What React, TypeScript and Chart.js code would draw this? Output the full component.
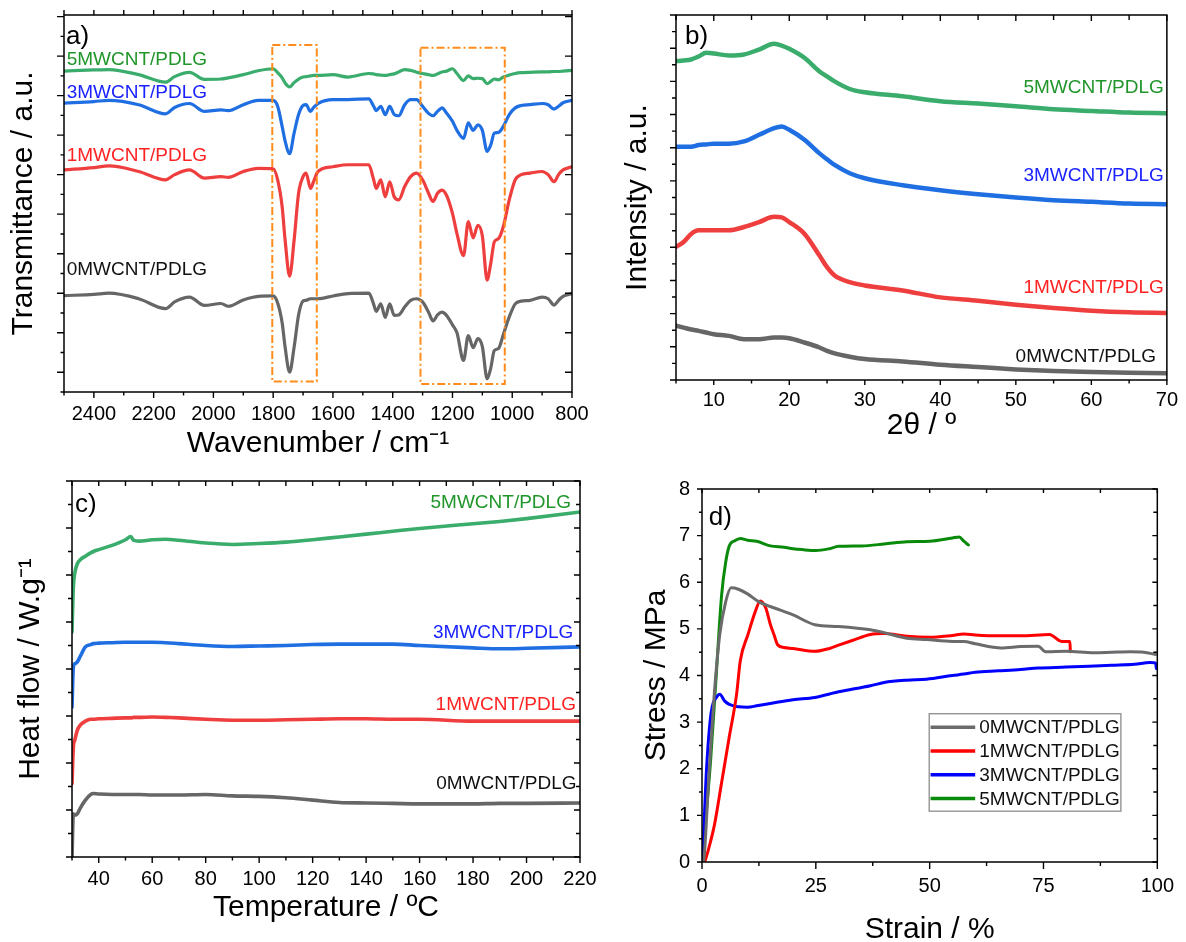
import React, { useEffect, useRef } from 'react';
import { Chart, registerables } from 'chart.js';

Chart.register(...registerables);

const FONT = '"Liberation Sans", Arial, Helvetica, sans-serif';

const sampleLabels = ['0MWCNT/PDLG', '1MWCNT/PDLG', '3MWCNT/PDLG', '5MWCNT/PDLG'];

// ---------- a) FTIR ----------
const ftirWavenumber = [2500, 2400, 2350, 2250, 2160, 2130, 2080, 2030, 1975, 1950, 1900, 1850, 1800, 1785, 1770, 1760, 1745, 1730, 1715, 1700, 1690, 1675, 1665, 1650, 1600, 1550, 1480, 1465, 1455, 1440, 1425, 1410, 1395, 1380, 1360, 1340, 1320, 1300, 1280, 1265, 1250, 1235, 1220, 1200, 1185, 1163, 1147, 1131, 1115, 1100, 1084, 1072, 1060, 1046, 1030, 1010, 990, 970, 940, 900, 880, 860, 845, 830, 800];
const ftir0 = [1.94, 1.97, 2.0, 1.86, 1.61, 1.78, 1.9, 1.69, 1.74, 1.67, 1.83, 1.92, 1.93, 1.75, 1.25, 0.63, 0.0, 0.63, 1.45, 1.8, 1.82, 1.86, 1.86, 1.86, 1.93, 1.99, 2.0, 1.75, 1.54, 1.73, 1.39, 1.73, 1.44, 1.45, 1.65, 1.82, 1.86, 1.78, 1.52, 1.3, 1.45, 1.52, 1.44, 1.2, 1.0, 0.3, 0.93, 0.62, 0.85, 0.65, -0.17, 0.1, 0.55, 0.6, 0.95, 1.4, 1.73, 1.8, 1.82, 1.9, 1.86, 1.7, 1.82, 1.92, 1.99];
const ftir1 = [5.12, 5.18, 5.22, 5.08, 4.87, 5.0, 5.12, 4.91, 4.95, 4.93, 5.08, 5.16, 5.15, 4.87, 4.19, 3.34, 2.43, 3.34, 4.53, 4.95, 5.04, 4.65, 4.82, 5.08, 5.2, 5.25, 5.25, 4.91, 4.65, 4.87, 4.44, 4.82, 4.44, 4.36, 4.7, 4.95, 5.04, 4.87, 4.53, 4.32, 4.53, 4.61, 4.48, 4.02, 3.51, 2.95, 3.81, 3.4, 3.72, 3.45, 2.33, 2.75, 3.3, 3.38, 3.68, 4.36, 4.87, 5.0, 5.04, 5.08, 5.0, 4.82, 5.0, 5.12, 5.2];
const ftir3 = [6.81, 6.85, 6.88, 6.77, 6.54, 6.7, 6.8, 6.6, 6.64, 6.62, 6.77, 6.88, 6.88, 6.73, 6.22, 5.85, 5.53, 6.05, 6.52, 6.75, 6.77, 6.6, 6.7, 6.8, 6.9, 6.9, 6.92, 6.75, 6.62, 6.73, 6.52, 6.73, 6.52, 6.49, 6.77, 6.9, 6.9, 6.73, 6.55, 6.49, 6.6, 6.69, 6.56, 6.35, 6.12, 5.92, 6.31, 6.12, 6.26, 6.12, 5.59, 5.75, 6.05, 6.07, 6.22, 6.52, 6.69, 6.75, 6.77, 6.8, 6.77, 6.66, 6.73, 6.82, 6.88];
const ftir5 = [7.62, 7.65, 7.66, 7.53, 7.34, 7.48, 7.59, 7.41, 7.42, 7.45, 7.53, 7.63, 7.68, 7.58, 7.45, 7.32, 7.22, 7.33, 7.42, 7.47, 7.48, 7.5, 7.51, 7.51, 7.53, 7.47, 7.56, 7.55, 7.53, 7.52, 7.51, 7.53, 7.55, 7.6, 7.66, 7.64, 7.59, 7.56, 7.53, 7.51, 7.55, 7.6, 7.62, 7.68, 7.56, 7.38, 7.5, 7.43, 7.44, 7.43, 7.3, 7.36, 7.42, 7.4, 7.47, 7.52, 7.56, 7.58, 7.59, 7.6, 7.6, 7.61, 7.61, 7.62, 7.64];

// ---------- b) XRD ----------
const xrdTwoTheta = [5, 6, 7, 8, 9, 10, 12, 14, 16, 18, 19, 20, 22, 24, 25, 26, 28, 30, 35, 40, 45, 50, 55, 60, 65, 70];
const xrd0 = [1.64, 1.58, 1.52, 1.48, 1.43, 1.38, 1.33, 1.23, 1.23, 1.28, 1.28, 1.26, 1.13, 0.98, 0.88, 0.8, 0.7, 0.63, 0.56, 0.46, 0.39, 0.32, 0.27, 0.24, 0.22, 0.2];
const xrd1 = [4.01, 4.16, 4.4, 4.51, 4.51, 4.51, 4.51, 4.61, 4.76, 4.92, 4.9, 4.76, 4.41, 3.75, 3.4, 3.15, 2.95, 2.85, 2.7, 2.49, 2.39, 2.27, 2.17, 2.09, 2.04, 2.02];
const xrd3 = [7.03, 7.03, 7.03, 7.08, 7.1, 7.12, 7.12, 7.19, 7.39, 7.59, 7.64, 7.54, 7.24, 6.83, 6.65, 6.48, 6.23, 6.08, 5.87, 5.72, 5.6, 5.5, 5.42, 5.37, 5.32, 5.3];
const xrd5 = [9.61, 9.63, 9.66, 9.75, 9.86, 9.84, 9.78, 9.81, 9.96, 10.13, 10.08, 9.98, 9.71, 9.3, 9.15, 9.0, 8.77, 8.67, 8.55, 8.4, 8.33, 8.25, 8.16, 8.11, 8.06, 8.04];

// ---------- c) DSC ----------
const dscTemperature = [30, 30.5, 31, 32, 33, 35, 37, 38, 40, 45, 50, 52, 53, 55, 60, 65, 70, 80, 90, 100, 110, 120, 130, 140, 150, 160, 180, 190, 200, 220];
const dsc0 = [0.0, 0.92, 0.89, 0.92, 1.03, 1.21, 1.33, 1.35, 1.34, 1.33, 1.33, 1.33, 1.33, 1.33, 1.32, 1.32, 1.32, 1.33, 1.3, 1.29, 1.26, 1.21, 1.16, 1.15, 1.14, 1.13, 1.13, 1.14, 1.14, 1.15];
const dsc1 = [1.56, 2.34, 2.48, 2.7, 2.8, 2.89, 2.93, 2.93, 2.94, 2.95, 2.96, 2.96, 2.97, 2.97, 2.98, 2.97, 2.96, 2.93, 2.91, 2.91, 2.92, 2.93, 2.94, 2.94, 2.93, 2.93, 2.89, 2.89, 2.89, 2.89];
const dsc3 = [3.19, 4.04, 4.11, 4.15, 4.26, 4.47, 4.52, 4.54, 4.55, 4.56, 4.57, 4.57, 4.57, 4.57, 4.57, 4.56, 4.54, 4.5, 4.48, 4.49, 4.5, 4.52, 4.53, 4.53, 4.53, 4.5, 4.45, 4.43, 4.44, 4.47];
const dsc5 = [4.79, 5.74, 6.03, 6.24, 6.32, 6.4, 6.47, 6.5, 6.54, 6.63, 6.75, 6.82, 6.74, 6.72, 6.75, 6.76, 6.74, 6.68, 6.65, 6.67, 6.7, 6.75, 6.81, 6.87, 6.93, 6.99, 7.09, 7.14, 7.2, 7.34];

// ---------- d) Tensile ----------
const strain0 = [0.2, 0.4, 1.5, 2.7, 3.9, 5.2, 6.4, 8, 10, 12.5, 15, 20, 24.8, 30, 37, 40, 45, 49.3, 55, 57.5, 60, 65.7, 70, 73.8, 75.5, 80, 86, 90, 94, 97, 99.6];
const stress0 = [0, 0.05, 1.84, 3.6, 4.88, 5.58, 5.88, 5.85, 5.75, 5.58, 5.48, 5.3, 5.09, 5.05, 4.98, 4.92, 4.8, 4.77, 4.73, 4.73, 4.68, 4.59, 4.62, 4.63, 4.51, 4.52, 4.49, 4.5, 4.51, 4.5, 4.45];
const strain1 = [0.6, 1.5, 2.7, 4.3, 6.0, 7.6, 8.4, 10.1, 11.7, 12.8, 14, 15, 15.8, 16.6, 18, 20, 24.8, 28, 30, 33, 37, 40, 45, 50, 55, 57.5, 60, 65, 70, 76.3, 79, 80.8, 80.9];
const stress1 = [0, 0.3, 0.78, 1.7, 2.69, 3.6, 4.31, 4.88, 5.37, 5.6, 5.45, 5.1, 4.88, 4.66, 4.6, 4.58, 4.52, 4.58, 4.65, 4.75, 4.88, 4.9, 4.84, 4.82, 4.86, 4.89, 4.87, 4.85, 4.85, 4.88, 4.73, 4.73, 4.51];
const strain3 = [0, 0.3, 1, 2, 3.3, 3.9, 5, 6, 8, 10, 12, 15, 20, 24.8, 30, 37, 40, 45, 49.3, 55, 57.5, 60, 65, 70, 73.8, 80, 85, 90, 95, 98.4, 99.6, 99.8];
const stress3 = [0, 0.5, 2.0, 3.2, 3.55, 3.6, 3.45, 3.38, 3.33, 3.32, 3.35, 3.4, 3.48, 3.53, 3.65, 3.78, 3.85, 3.9, 3.92, 4.0, 4.03, 4.07, 4.1, 4.13, 4.16, 4.18, 4.2, 4.22, 4.24, 4.28, 4.27, 4.15];
const strain5 = [0, 1.9, 3.1, 4.3, 5.2, 6.0, 7.2, 8.4, 10, 12, 15, 18, 20, 22, 25, 28, 30, 35, 40, 45, 50, 55, 56.5, 57.5, 58.5];
const stress5 = [0, 2.19, 3.96, 5.72, 6.43, 6.78, 6.89, 6.94, 6.9, 6.88, 6.78, 6.75, 6.72, 6.7, 6.68, 6.72, 6.77, 6.78, 6.82, 6.87, 6.88, 6.95, 6.97, 6.88, 6.8];

// ---------- styling ----------
const lineColors = { c0: '#666666', c1: '#ef3e3e', c3: '#1f6fe3', c5: '#3aac6c' };
const textColors = { c0: '#111111', c1: '#ff2222', c3: '#1a22ff', c5: '#20962a' };
const tensileColors = { c0: '#6b6b6b', c1: '#ff0000', c3: '#0000ff', c5: '#0a8a0a' };

function series(label: string, xs: number[], ys: number[], color: string, width: number) {
  return {
    label,
    data: xs.map((x, i) => ({ x, y: ys[i] })),
    borderColor: color,
    backgroundColor: color,
    borderWidth: width,
    pointRadius: 0,
    fill: false,
    cubicInterpolationMode: 'monotone',
    borderJoinStyle: 'round',
    borderCapStyle: 'round',
  };
}

const decorPlugin = {
  id: 'decor',
  afterDatasetsDraw(chart: any, _args: any, opts: any) {
    const { ctx, chartArea: ca } = chart;
    const xs = chart.scales.x;
    const ys = chart.scales.y;
    ctx.save();
    // dashed boxes
    (opts.boxes || []).forEach((b: any) => {
      const x1 = xs.getPixelForValue(b.x1);
      const x2 = xs.getPixelForValue(b.x2);
      const y1 = ys.getPixelForValue(b.y1);
      const y2 = ys.getPixelForValue(b.y2);
      ctx.setLineDash(b.dash);
      ctx.strokeStyle = b.color;
      ctx.lineWidth = b.width;
      ctx.strokeRect(Math.min(x1, x2), Math.min(y1, y2), Math.abs(x2 - x1), Math.abs(y2 - y1));
    });
    ctx.setLineDash([]);
    // text notes
    (opts.notes || []).forEach((n: any) => {
      ctx.font = `${n.size}px ${FONT}`;
      ctx.fillStyle = n.color;
      ctx.textAlign = n.align;
      ctx.textBaseline = 'middle';
      ctx.fillText(n.text, xs.getPixelForValue(n.x), ys.getPixelForValue(n.y));
    });
    // legend
    const lg = opts.legend;
    if (lg) {
      const x1 = xs.getPixelForValue(lg.x1);
      const x2 = xs.getPixelForValue(lg.x2);
      const y1 = ys.getPixelForValue(lg.y1);
      const y2 = ys.getPixelForValue(lg.y2);
      ctx.fillStyle = '#ffffff';
      ctx.fillRect(x1, y1, x2 - x1, y2 - y1);
      ctx.strokeStyle = '#8c8c8c';
      ctx.lineWidth = 1.3;
      ctx.strokeRect(x1, y1, x2 - x1, y2 - y1);
      chart.data.datasets.forEach((ds: any, i: number) => {
        const y = ys.getPixelForValue(lg.rows[i]);
        ctx.strokeStyle = ds.borderColor;
        ctx.lineWidth = ds.borderWidth + 0.5;
        ctx.beginPath();
        ctx.moveTo(xs.getPixelForValue(lg.lineX1), y);
        ctx.lineTo(xs.getPixelForValue(lg.lineX2), y);
        ctx.stroke();
        ctx.font = `${lg.size}px ${FONT}`;
        ctx.fillStyle = '#111';
        ctx.textAlign = 'left';
        ctx.textBaseline = 'middle';
        ctx.fillText(ds.label, xs.getPixelForValue(lg.textX), y + 1);
      });
    }
    // frame and ticks
    const f = opts.frame;
    if (f) {
      ctx.strokeStyle = '#000';
      ctx.lineWidth = 1.5;
      ctx.strokeRect(ca.left, ca.top, ca.right - ca.left, ca.bottom - ca.top);
      const marks = (scale: any, minor: number, major: number) => {
        const out: any[] = [];
        const start = Math.ceil(scale.min / minor - 1e-9) * minor;
        for (let i = 0; ; i++) {
          const v = start + i * minor;
          if (v > scale.max + 1e-9) break;
          const r = v / major;
          out.push({ p: scale.getPixelForValue(v), major: Math.abs(r - Math.round(r)) < 1e-6 });
        }
        return out;
      };
      const xm = marks(xs, f.xMinor, f.xMajor);
      const ym = marks(ys, f.yMinor, f.yMajor);
      ctx.lineWidth = 1.4;
      const side = (name: string, cfg: any, list: any[]) => {
        if (!cfg) return;
        ctx.beginPath();
        list.forEach((m) => {
          const len = m.major ? cfg.major : cfg.minor;
          if (!len) return;
          if (name === 'bottom') {
            const s = cfg.dir === 'out' ? 1 : -1;
            ctx.moveTo(m.p, ca.bottom);
            ctx.lineTo(m.p, ca.bottom + s * len);
          } else if (name === 'top') {
            const s = cfg.dir === 'out' ? -1 : 1;
            ctx.moveTo(m.p, ca.top);
            ctx.lineTo(m.p, ca.top + s * len);
          } else if (name === 'left') {
            const s = cfg.dir === 'out' ? -1 : 1;
            ctx.moveTo(ca.left, m.p);
            ctx.lineTo(ca.left + s * len, m.p);
          } else {
            const s = cfg.dir === 'out' ? 1 : -1;
            ctx.moveTo(ca.right, m.p);
            ctx.lineTo(ca.right + s * len, m.p);
          }
        });
        ctx.stroke();
      };
      side('bottom', f.bottom, xm);
      side('top', f.top, xm);
      side('left', f.left, ym);
      side('right', f.right, ym);
    }
    ctx.restore();
  },
};

function makeConfig(p: any) {
  return {
    type: 'line',
    data: { datasets: p.datasets },
    options: {
      animation: false,
      responsive: false,
      maintainAspectRatio: false,
      events: [],
      layout: { padding: { left: 0, top: p.padTop, right: p.padRight, bottom: 0 } },
      plugins: {
        legend: { display: false },
        tooltip: { enabled: false },
        decor: p.decor,
      },
      scales: {
        x: {
          type: 'linear',
          min: p.x.min,
          max: p.x.max,
          reverse: !!p.x.reverse,
          afterFit: (s: any) => {
            s.height = p.xH;
          },
          grid: { display: false, drawTicks: false },
          border: { display: false },
          ticks: {
            stepSize: p.x.step,
            includeBounds: false,
            autoSkip: false,
            maxRotation: 0,
            padding: p.x.tickPad,
            color: '#000',
            font: { family: FONT, size: 20 },
            callback: (v: any) => String(v),
          },
          title: {
            display: true,
            text: p.x.title,
            color: '#000',
            font: { family: FONT, size: 30, lineHeight: p.x.titleLineHeight || 1.2 },
            padding: { top: 0, bottom: p.x.titlePad },
          },
        },
        y: {
          type: 'linear',
          min: p.y.min,
          max: p.y.max,
          afterFit: (s: any) => {
            s.width = p.yW;
          },
          grid: { display: false, drawTicks: false },
          border: { display: false },
          ticks: {
            display: !!p.y.showTicks,
            stepSize: p.y.step || 1,
            includeBounds: false,
            padding: p.y.tickPad || 0,
            color: '#000',
            font: { family: FONT, size: 20 },
            callback: (v: any) => String(v),
          },
          title: {
            display: true,
            text: p.y.title,
            color: '#000',
            font: { family: FONT, size: 30 },
            padding: { top: p.y.titlePad, bottom: 0 },
          },
        },
      },
    },
    plugins: [decorPlugin],
  };
}

const labelSize = 19;

const panelA = {
  left: 0, top: 0, width: 600, height: 470,
  padTop: 15, padRight: 28, yW: 64, xH: 78,
  x: { min: 800, max: 2500, reverse: true, step: 200, tickPad: 10, title: 'Wavenumber / cm⁻¹', titlePad: 8 },
  y: { min: -0.5, max: 9.04, title: 'Transmittance / a.u.', titlePad: 6 },
  datasets: [
    series(sampleLabels[3], ftirWavenumber, ftir5, lineColors.c5, 3.2),
    series(sampleLabels[2], ftirWavenumber, ftir3, lineColors.c3, 3.2),
    series(sampleLabels[1], ftirWavenumber, ftir1, lineColors.c1, 3.2),
    series(sampleLabels[0], ftirWavenumber, ftir0, lineColors.c0, 3.2),
  ],
  decor: {
    frame: {
      xMinor: 100, xMajor: 200, yMinor: 0.5, yMajor: 1,
      bottom: { dir: 'out', major: 6, minor: 3.5 },
      top: { dir: 'out', major: 5, minor: 5 },
      left: { dir: 'out', major: 7, minor: 3.5 },
      right: { dir: 'in', major: 7, minor: 0 },
    },
    boxes: [
      { x1: 1803, x2: 1654, y1: 8.28, y2: -0.234, color: '#ff8c1a', width: 2, dash: [8, 3, 2, 3] },
      { x1: 1307, x2: 1025, y1: 8.21, y2: -0.297, color: '#ff8c1a', width: 2, dash: [8, 3, 2, 3] },
    ],
    notes: [
      { text: 'a)', x: 2493, y: 8.49, size: 26, color: '#000', align: 'left' },
      { text: sampleLabels[3], x: 2491, y: 7.9, size: labelSize, color: textColors.c5, align: 'left' },
      { text: sampleLabels[2], x: 2491, y: 7.07, size: labelSize, color: textColors.c3, align: 'left' },
      { text: sampleLabels[1], x: 2491, y: 5.48, size: labelSize, color: textColors.c1, align: 'left' },
      { text: sampleLabels[0], x: 2491, y: 2.59, size: labelSize, color: textColors.c0, align: 'left' },
    ],
  },
};

const panelB = {
  left: 610, top: 0, width: 576, height: 460,
  padTop: 15, padRight: 15, yW: 66, xH: 80,
  x: { min: 5, max: 70, step: 10, tickPad: 8, title: '2θ / º', titlePad: 16 },
  y: { min: 0, max: 11, title: 'Intensity / a.u.', titlePad: 10 },
  datasets: [
    series(sampleLabels[3], xrdTwoTheta, xrd5, lineColors.c5, 4.5),
    series(sampleLabels[2], xrdTwoTheta, xrd3, lineColors.c3, 4.5),
    series(sampleLabels[1], xrdTwoTheta, xrd1, lineColors.c1, 4.5),
    series(sampleLabels[0], xrdTwoTheta, xrd0, lineColors.c0, 4.5),
  ],
  decor: {
    frame: {
      xMinor: 5, xMajor: 10, yMinor: 0.5, yMajor: 1,
      bottom: { dir: 'out', major: 5, minor: 3.5 },
      top: { dir: 'in', major: 6, minor: 5 },
      left: { dir: 'out', major: 6, minor: 4 },
      right: null,
    },
    notes: [
      { text: 'b)', x: 6.2, y: 10.34, size: 26, color: '#000', align: 'left' },
      { text: sampleLabels[3], x: 69.6, y: 8.8, size: labelSize, color: textColors.c5, align: 'right' },
      { text: sampleLabels[2], x: 69.6, y: 6.15, size: labelSize, color: textColors.c3, align: 'right' },
      { text: sampleLabels[1], x: 69.6, y: 2.77, size: labelSize, color: textColors.c1, align: 'right' },
      { text: sampleLabels[0], x: 68.56, y: 0.69, size: labelSize, color: textColors.c0, align: 'right' },
    ],
  },
};

const panelC = {
  left: 0, top: 465, width: 610, height: 477,
  padTop: 16, padRight: 30, yW: 72, xH: 85,
  x: { min: 30, max: 220, step: 20, tickPad: 10, title: 'Temperature / ºC', titlePad: 16 },
  y: { min: 0, max: 8, title: 'Heat flow / W.g⁻¹', titlePad: 13 },
  datasets: [
    series(sampleLabels[3], dscTemperature, dsc5, lineColors.c5, 3.6),
    series(sampleLabels[2], dscTemperature, dsc3, lineColors.c3, 3.6),
    series(sampleLabels[1], dscTemperature, dsc1, lineColors.c1, 3.6),
    series(sampleLabels[0], dscTemperature, dsc0, lineColors.c0, 3.6),
  ],
  decor: {
    frame: {
      xMinor: 10, xMajor: 20, yMinor: 0.5, yMajor: 1,
      bottom: { dir: 'out', major: 6, minor: 3.5 },
      top: { dir: 'in', major: 5, minor: 5 },
      left: { dir: 'out', major: 6, minor: 4 },
      right: { dir: 'in', major: 6, minor: 4 },
    },
    notes: [
      { text: 'c)', x: 31.1, y: 7.49, size: 26, color: '#000', align: 'left' },
      { text: sampleLabels[3], x: 216.6, y: 7.53, size: labelSize, color: textColors.c5, align: 'right' },
      { text: sampleLabels[2], x: 217.5, y: 4.77, size: labelSize, color: textColors.c3, align: 'right' },
      { text: sampleLabels[1], x: 218.5, y: 3.24, size: labelSize, color: textColors.c1, align: 'right' },
      { text: sampleLabels[0], x: 218.7, y: 1.56, size: labelSize, color: textColors.c0, align: 'right' },
    ],
  },
};

const panelD = {
  left: 620, top: 465, width: 566, height: 477,
  padTop: 21, padRight: 19, yW: 82, xH: 80,
  x: { min: 0, max: 100, step: 25, tickPad: 12, title: 'Strain / %', titlePad: -3, titleLineHeight: 1 },
  y: { min: 0, max: 8, step: 1, showTicks: true, tickPad: 12, title: 'Stress / MPa', titlePad: 18.5 },
  datasets: [
    series(sampleLabels[0], strain0, stress0, tensileColors.c0, 3),
    series(sampleLabels[1], strain1, stress1, tensileColors.c1, 3),
    series(sampleLabels[2], strain3, stress3, tensileColors.c3, 3),
    series(sampleLabels[3], strain5, stress5, tensileColors.c5, 3),
  ],
  decor: {
    frame: {
      xMinor: 12.5, xMajor: 25, yMinor: 0.5, yMajor: 1,
      bottom: { dir: 'out', major: 7, minor: 4 },
      top: { dir: 'in', major: 4, minor: 4 },
      left: { dir: 'out', major: 5, minor: 3 },
      right: { dir: 'in', major: 5, minor: 4 },
    },
    notes: [{ text: 'd)', x: 1.5, y: 7.38, size: 26, color: '#000', align: 'left' }],
    legend: {
      x1: 49.9, x2: 92.0, y1: 3.18, y2: 1.09,
      rows: [2.89, 2.38, 1.87, 1.36],
      lineX1: 50.2, lineX2: 60.0, textX: 60.9, size: 19,
    },
  },
};

function Panel({ spec }: { spec: any }) {
  const ref = useRef<HTMLCanvasElement>(null);
  useEffect(() => {
    const chart = new Chart(ref.current as HTMLCanvasElement, makeConfig(spec) as any);
    return () => chart.destroy();
  }, [spec]);
  return (
    <canvas
      ref={ref}
      width={spec.width}
      height={spec.height}
      style={{ position: 'absolute', left: spec.left, top: spec.top, width: spec.width, height: spec.height }}
    />
  );
}

export default function App() {
  return (
    <div style={{ position: 'absolute', left: 0, top: 0, width: 1186, height: 942, background: '#fff', overflow: 'hidden' }}>
      <Panel spec={panelA} />
      <Panel spec={panelB} />
      <Panel spec={panelC} />
      <Panel spec={panelD} />
    </div>
  );
}
